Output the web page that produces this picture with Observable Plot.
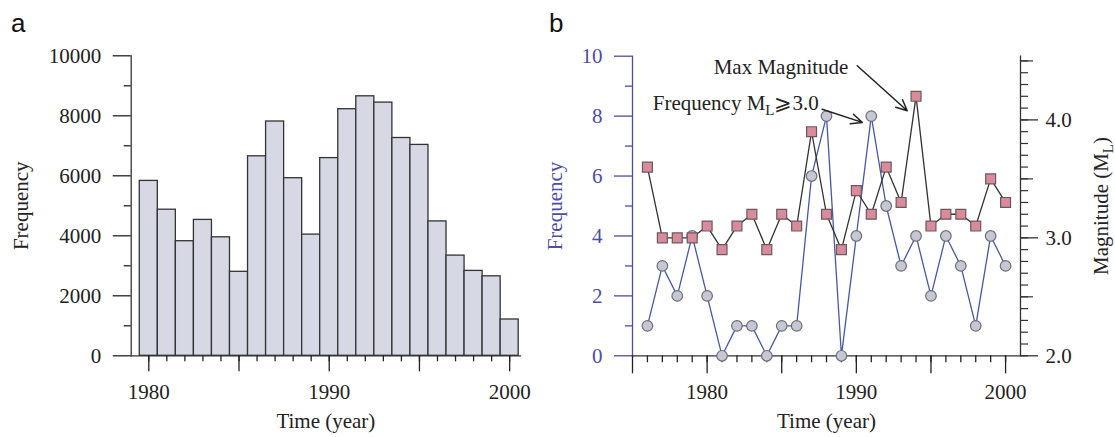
<!DOCTYPE html>
<html><head><meta charset="utf-8">
<script src="https://cdn.jsdelivr.net/npm/d3@7"></script>
<script src="https://cdn.jsdelivr.net/npm/@observablehq/plot@0.6"></script>
<style>
body{margin:0;background:#fff;}
#wrap{position:relative;width:1115px;height:437px;overflow:hidden;background:#fff;}
.panel{position:absolute;top:0;}
.tag{position:absolute;font-family:"Liberation Sans",Arial,sans-serif;font-size:26px;line-height:26px;color:#111;}
</style></head><body>
<div id="wrap">
  <div class="tag" style="left:11px;top:10px">a</div>
  <div class="tag" style="left:549px;top:10px">b</div>
</div>
<script>
// ---------- Panel a data ----------
const histYears  = [1980,1981,1982,1983,1984,1985,1986,1987,1988,1989,1990,1991,1992,1993,1994,1995,1996,1997,1998,1999,2000];
const histCounts = [5830,4870,3820,4530,3950,2800,6650,7810,5920,4040,6590,8220,8650,8440,7260,7030,4480,3340,2830,2650,1210];
const aYTicks = [0,2000,4000,6000,8000,10000];
const aYMinor = [1000,3000,5000,7000,9000];
const aXLabels = [1980,1990,2000];
const aXMajor = [1980,1985,1990,1995,2000];

// ---------- Panel b data ----------
const bYears  = [1976,1977,1978,1979,1980,1981,1982,1983,1984,1985,1986,1987,1988,1989,1990,1991,1992,1993,1994,1995,1996,1997,1998,1999,2000];
const freqM3  = [1,3,2,4,2,0,1,1,0,1,1,6,8,0,4,8,5,3,4,2,4,3,1,4,3];
const maxMag  = [3.6,3.0,3.0,3.0,3.1,2.9,3.1,3.2,2.9,3.2,3.1,3.9,3.2,2.9,3.4,3.2,3.6,3.3,4.2,3.1,3.2,3.2,3.1,3.5,3.3];
const bYTicks = [0,2,4,6,8,10];
const bYMinor = [1,3,5,7,9];
const magMajor = [2.0,3.0,4.0];
const magMid = [2.5,3.5,4.5];
const magMinor = d3.range(20,46).map(v => v/10);
const bXLabels = [1980,1990,2000];
const bXMajor = [1975,1980,1985,1990,1995,2000];
const bXMinor = bYears;

// annotations (data coordinates: year, frequency units)
const annoLabels = ["Max Magnitude", "Frequency M_L\u2A7E3.0"];
const annoLabelX = [1989.47, 1987.48];
const annoLabelY = [9.62, 8.42];
const annoFromX = [1990.06, 1987.71];
const annoFromY = [9.68, 8.23];
const annoToX = [1993.41, 1990.39];
const annoToY = [8.18, 7.79];

const serif = "'Liberation Serif','Times New Roman',serif";
const ink = "#222";
const blue = "#4d4da8";

function subscriptL(svg) {
  const ns = "http://www.w3.org/2000/svg";
  svg.querySelectorAll("text").forEach(t => {
    if (t.children.length === 0 && t.textContent.includes("_L")) {
      const [a, b] = t.textContent.split("_L");
      t.textContent = "";
      const s1 = document.createElementNS(ns, "tspan"); s1.textContent = a;
      const s2 = document.createElementNS(ns, "tspan"); s2.textContent = "L";
      s2.setAttribute("font-size", "15"); s2.setAttribute("dy", "5");
      const s3 = document.createElementNS(ns, "tspan"); s3.textContent = b; s3.setAttribute("dy", "-5");
      t.append(s1, s2, s3);
    }
  });
}

// ---------- Panel a ----------
const aData = histYears.map((year, i) => ({year, count: histCounts[i]}));
const plotA = Plot.plot({
  width: 535, height: 437,
  marginLeft: 130.7, marginRight: 15, marginTop: 55.3, marginBottom: 81.7,
  x: {domain: [1979.025, 2000.6]},
  y: {domain: [0, 10000]},
  style: {fontFamily: serif, fontSize: "21px", color: ink, background: "none", overflow: "visible"},
  marks: [
    Plot.rectY(aData, {x1: d => d.year - 0.5, x2: d => d.year + 0.5, y: "count", fill: "#d6d9e4", stroke: "#333", strokeWidth: 1.3}),
    Plot.frame({anchor: "left", stroke: "#333", strokeWidth: 1.3}),
    Plot.frame({anchor: "bottom", stroke: "#333", strokeWidth: 1.3}),
    Plot.axisY(aYTicks, {tickSize: 18, tickPadding: 12, strokeWidth: 1.3, tickFormat: d => `${d}`, label: "Frequency", labelArrow: "none", labelAnchor: "center", labelOffset: 118}),
    Plot.axisY(aYMinor, {tickSize: 7, strokeWidth: 1.3, fill: "none", label: null}),
    Plot.axisX(aXLabels, {tickSize: 0, tickPadding: 28, tickFormat: d => `${d}`, label: "Time (year)", labelArrow: "none", labelAnchor: "center", labelOffset: 72}),
    Plot.axisX(aXMajor, {tickSize: 16, strokeWidth: 1.3, fill: "none", label: null}),
    Plot.axisX(histYears, {tickSize: 6, strokeWidth: 1.3, fill: "none", label: null})
  ]
});
plotA.classList.add("panel");
plotA.style.left = "0px";
document.getElementById("wrap").appendChild(plotA);

// ---------- Panel b ----------
const mag = d3.scaleLinear([2, 4.54], [0, 10]);
const bData = bYears.map((year, i) => ({year, freq: freqM3[i], m: maxMag[i]}));
const annoText = annoLabels.map((label, i) => ({label, x: annoLabelX[i], y: annoLabelY[i]}));
const annoArrows = annoLabels.map((label, i) => ({x1: annoFromX[i], y1: annoFromY[i], x2: annoToX[i], y2: annoToY[i]}));

const plotB = Plot.plot({
  width: 580, height: 437,
  marginLeft: 97, marginRight: 95, marginTop: 55.7, marginBottom: 81.7,
  x: {domain: [1975, 2001]},
  y: {domain: [0, 10]},
  style: {fontFamily: serif, fontSize: "21px", color: ink, background: "none", overflow: "visible"},
  marks: [
    Plot.frame({anchor: "bottom", stroke: "#333", strokeWidth: 1.3}),
    Plot.frame({anchor: "right", stroke: "#333", strokeWidth: 1.3}),
    Plot.frame({anchor: "left", stroke: blue, strokeWidth: 1.3}),
    Plot.axisY(bYTicks, {anchor: "left", tickSize: 18, tickPadding: 12, color: blue, strokeWidth: 1.3, tickFormat: d => `${d}`, label: "Frequency", labelArrow: "none", labelAnchor: "center", labelOffset: 85}),
    Plot.axisY(bYMinor, {anchor: "left", tickSize: 7, stroke: blue, strokeWidth: 1.3, fill: "none", label: null}),
    Plot.axisY(magMinor.map(mag), {anchor: "right", tickSize: 7, stroke: "#333", strokeWidth: 1.2, fill: "none", label: null}),
    Plot.axisY(magMid.map(mag), {anchor: "right", tickSize: 12, stroke: "#333", strokeWidth: 1.2, fill: "none", label: null}),
    Plot.axisY(magMajor.map(mag), {anchor: "right", tickSize: 17, tickPadding: 8, stroke: "#333", strokeWidth: 1.3, tickFormat: d => mag.invert(d).toFixed(1), label: "Magnitude (M_L)", labelArrow: "none", labelAnchor: "center", labelOffset: 87}),
    Plot.axisX(bXLabels, {tickSize: 0, tickPadding: 28, tickFormat: d => `${d}`, label: "Time (year)", labelArrow: "none", labelAnchor: "center", labelOffset: 72}),
    Plot.axisX(bXMajor, {tickSize: 18, strokeWidth: 1.3, fill: "none", label: null}),
    Plot.axisX(bXMinor, {tickSize: 7, strokeWidth: 1.3, fill: "none", label: null}),
    Plot.line(bData, {x: "year", y: "freq", stroke: "#4658ad", strokeWidth: 1.3}),
    Plot.line(bData, {x: "year", y: d => mag(d.m), stroke: "#333", strokeWidth: 1.3}),
    Plot.dot(bData, {x: "year", y: "freq", r: 5.3, fill: "#c5c7d3", stroke: "#6e6e78", strokeWidth: 1.2}),
    Plot.dot(bData, {x: "year", y: d => mag(d.m), symbol: "square", r: 5.6, fill: "#d98b9c", stroke: "#6a5a5e", strokeWidth: 1.2}),
    Plot.text(annoText, {x: "x", y: "y", text: "label", textAnchor: "end", fill: ink}),
    Plot.arrow(annoArrows, {x1: "x1", y1: "y1", x2: "x2", y2: "y2", stroke: "#222", strokeWidth: 1.5, headLength: 12, headAngle: 50})
  ]
});
plotB.classList.add("panel");
plotB.style.left = "535px";
subscriptL(plotB);
document.getElementById("wrap").appendChild(plotB);
</script>
</body></html>
